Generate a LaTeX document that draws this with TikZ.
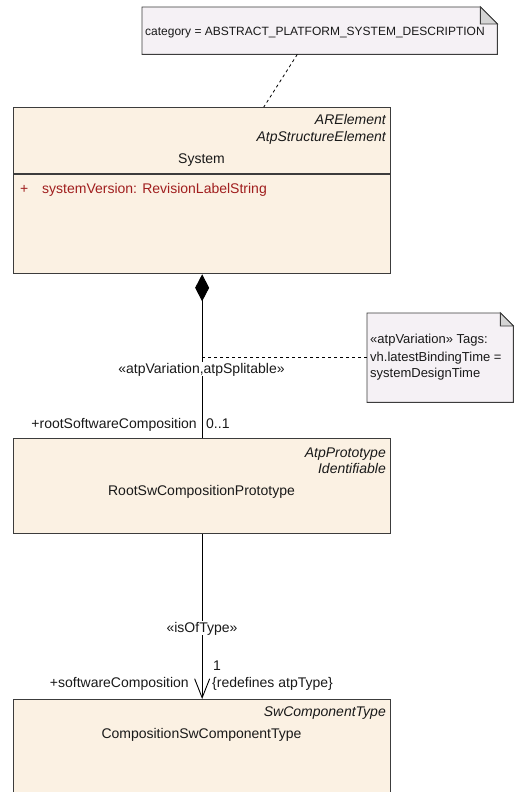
\documentclass[tikz,border=0pt]{standalone}
\usepackage{fontspec}
\setmainfont{Liberation Sans}
\usetikzlibrary{arrows.meta, calc, positioning}

\definecolor{classfill}{RGB}{251,241,227}
\definecolor{notefill}{RGB}{245,241,245}
\definecolor{foldgrey}{RGB}{212,212,212}
\definecolor{attrred}{RGB}{160,30,30}
\definecolor{edgegrey}{RGB}{60,60,60}

\begin{document}
\begin{tikzpicture}[x=1pt, y=-1pt,
    classbox/.style={draw=edgegrey, line width=1.3pt, fill=classfill, minimum width=377pt, anchor=north west, inner sep=0pt},
    notebox/.style={anchor=north west, inner sep=0pt},
    notepath/.style={draw=edgegrey, line width=0.9pt, fill=notefill},
    classtext/.style={font=\fontsize{14}{16}\selectfont, inner sep=0pt, text=black!90},
    stereo/.style={font=\fontsize{14}{16}\selectfont\itshape, inner sep=0pt, text=black!90, anchor=base east},
    notetext/.style={font=\fontsize{12}{14}\selectfont, inner sep=0pt, text=black!90, anchor=base west},
    linktext/.style={font=\fontsize{14}{16}\selectfont, inner sep=0pt, text=black!90},
    onlink/.style={linktext, fill=white, inner ysep=0.5pt, anchor=base}
]
\clip (0,0) rectangle (514,792);

\node[notebox, minimum width=355pt, minimum height=47pt] (catnote) at (142,7) {};
\draw[notepath] (catnote.north west) -- ([xshift=-17pt]catnote.north east) -- ([yshift=-17pt]catnote.north east) -- (catnote.south east) -- (catnote.south west) -- cycle;
\draw[notepath, fill=foldgrey] ([xshift=-17pt]catnote.north east) -- ([xshift=-17pt, yshift=-17pt]catnote.north east) -- ([yshift=-17pt]catnote.north east) -- cycle;
\node[notetext] (cattext) at (145,36) {category = ABSTRACT\_PLATFORM\_SYSTEM\_DESCRIPTION};

\node[classbox, minimum height=166pt] (system) at (13,107) {};
\node[stereo] (sysst1) at (386,124) {ARElement};
\node[stereo] (sysst2) at (386,141) {AtpStructureElement};
\node[classtext, anchor=base] (sysname) at (201.5,163) {System};
\draw[draw=edgegrey, line width=1.3pt] ($(system.north west)+(0,67)$) -- ($(system.north east)+(0,67)$);
\node[classtext, anchor=base west, text=attrred] (sysplus) at (20,193) {+};
\node[classtext, anchor=base west, text=attrred] (sysattr) at (42,193) {systemVersion: RevisionLabelString};

\node[notebox, minimum width=146pt, minimum height=89pt] (varnote) at (367,313) {};
\draw[notepath] (varnote.north west) -- ([xshift=-13pt]varnote.north east) -- ([yshift=-13pt]varnote.north east) -- (varnote.south east) -- (varnote.south west) -- cycle;
\draw[notepath, fill=foldgrey] ([xshift=-13pt]varnote.north east) -- ([xshift=-13pt, yshift=-13pt]varnote.north east) -- ([yshift=-13pt]varnote.north east) -- cycle;
\node[notetext, font=\fontsize{13}{15}\selectfont] (vartext1) at (370,343) {«atpVariation» Tags:};
\node[notetext, font=\fontsize{13}{15}\selectfont] (vartext2) at (370,361) {vh.latestBindingTime =};
\node[notetext, font=\fontsize{13}{15}\selectfont] (vartext3) at (370,377) {systemDesignTime};

\node[classbox, minimum height=95pt] (rootsw) at (13,438) {};
\node[stereo] (rootst1) at (386,457) {AtpPrototype};
\node[stereo] (rootst2) at (386,473) {Identifiable};
\node[classtext, anchor=base] (rootname) at (201.5,495) {RootSwCompositionPrototype};

\node[classbox, minimum height=110pt] (comptype) at (13,699) {};
\node[stereo] (compst1) at (386,716) {SwComponentType};
\node[classtext, anchor=base] (compname) at (201.5,738) {CompositionSwComponentType};

\draw[dashed, line width=0.8pt] ($(catnote.south west)!0.437!(catnote.south east)$) -- ($(system.north west)!0.663!(system.north east)$);

\draw[line width=0.9pt, -{Diamond[length=27pt, width=14pt]}] (rootsw.north) -- (system.south);
\draw[dashed, line width=0.8pt] (varnote.west) -- (varnote.west -| system.south);
\node[onlink] (varlabel) at (201.5,373) {«atpVariation,atpSplitable»};
\node[linktext, anchor=base east] (rolesrc) at (197,428) {+rootSoftwareComposition};
\node[linktext, anchor=base west] (multsrc) at (206,428) {0..1};

\draw[line width=0.9pt, -{Straight Barb[length=19pt, width=15pt]}] (rootsw.south) -- (comptype.north);
\node[onlink] (typelabel) at (202,632) {«isOfType»};
\node[linktext, anchor=base west] (multtgt) at (213,670) {1};
\node[linktext, anchor=base west] (redef) at (212,687) {\{redefines atpType\}};
\node[linktext, anchor=base east] (roletgt) at (189,687) {+softwareComposition};
\end{tikzpicture}
\end{document}
